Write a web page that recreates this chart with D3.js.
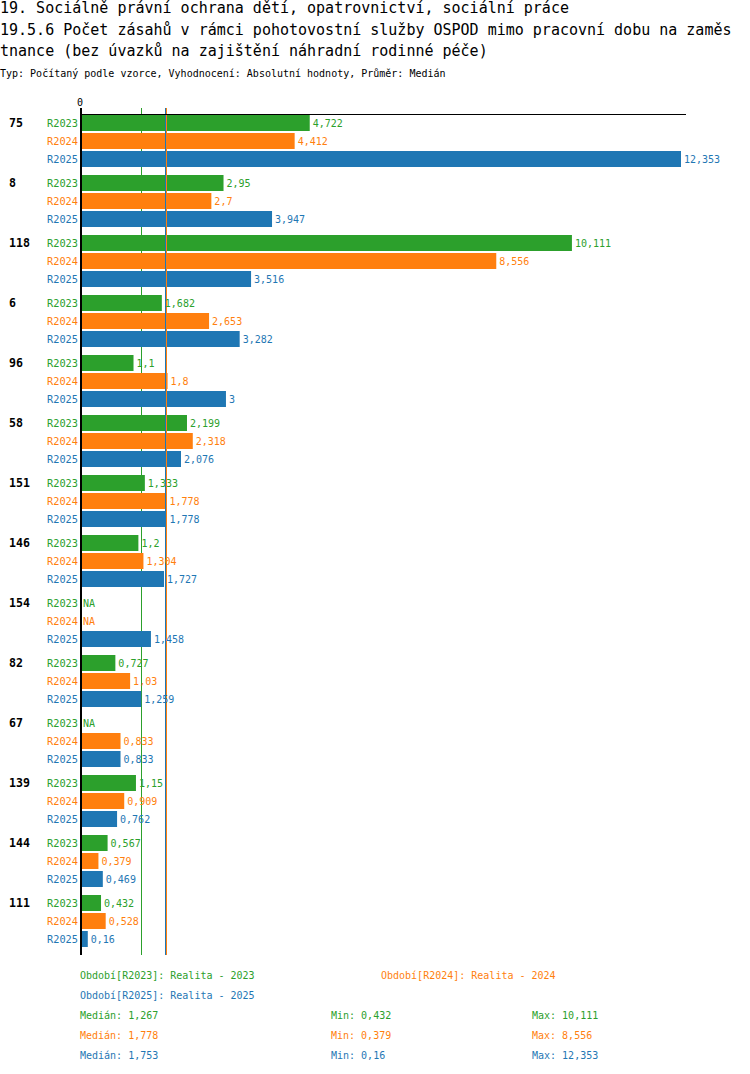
<!DOCTYPE html>
<html>
<head>
<meta charset="utf-8">
<script src="https://cdn.jsdelivr.net/npm/d3@7"></script>
<style>
body { margin: 0; background: #fff; }
text { font-family: "DejaVu Sans Mono", monospace; }
</style>
</head>
<body>
<script>
// data
const categories = ['75', '8', '118', '6', '96', '58', '151', '146', '154', '82', '67', '139', '144', '111']
const series = ['R2023', 'R2024', 'R2025']
const r2023 = [4.722, 2.95, 10.111, 1.682, 1.1, 2.199, 1.333, 1.2, null, 0.727, null, 1.15, 0.567, 0.432]
const r2024 = [4.412, 2.7, 8.556, 2.653, 1.8, 2.318, 1.778, 1.304, null, 1.03, 0.833, 0.909, 0.379, 0.528]
const r2025 = [12.353, 3.947, 3.516, 3.282, 3, 2.076, 1.778, 1.727, 1.458, 1.259, 0.833, 0.762, 0.469, 0.16]
const legendNames = ['Realita - 2023', 'Realita - 2024', 'Realita - 2025']
const medians = [1.267, 1.778, 1.753]
const mins = [0.432, 0.379, 0.16]
const maxs = [10.111, 8.556, 12.353]
const colors = ['#2ca02c', '#ff7f0e', '#1f77b4']

const values = [r2023, r2024, r2025]
const titleLines = [
  '19. Sociálně právní ochrana dětí, opatrovnictví, sociální práce',
  '19.5.6 Počet zásahů v rámci pohotovostní služby OSPOD mimo pracovní dobu na zaměs',
  'tnance (bez úvazků na zajištění náhradní rodinné péče)'
]
const subtitle = 'Typ: Počítaný podle vzorce, Vyhodnocení: Absolutní hodnoty, Průměr: Medián'

const cz = d3.formatLocale({decimal: ',', thousands: ' ', grouping: [3], currency: ['', '']})
const fmt = cz.format('.3~f')

const svg = d3.select('body').append('svg')
  .attr('width', 750)
  .attr('height', 1074)

// titles
svg.selectAll('text.title')
  .data(titleLines)
  .enter().append('text')
    .attr('class', 'title')
    .attr('x', 0)
    .attr('y', (d, i) => [13, 35, 56][i])
    .style('font-size', '15px')
    .text(d => d)

svg.append('text')
  .attr('x', 0)
  .attr('y', 77)
  .style('font-size', '10px')
  .text(subtitle)

// scales
const x = d3.scaleLinear()
  .domain([0, d3.max(values.flat())])
  .range([80, 681])

const y = d3.scaleBand()
  .domain(categories)
  .range([115, 955])

const inner = d3.scaleBand()
  .domain(series)
  .range([0, 54])

const barH = 16
const lineTop = 108, lineBottom = 955

// green median line sits behind the bars
svg.append('line')
  .attr('x1', Math.floor(x(medians[0])) + 0.5).attr('x2', Math.floor(x(medians[0])) + 0.5)
  .attr('y1', lineTop).attr('y2', lineBottom)
  .attr('stroke', colors[0])

// bars
const rows = []
categories.forEach((c, ci) => {
  series.forEach((s, si) => {
    rows.push({cat: c, s: s, si: si, v: values[si][ci]})
  })
})

svg.selectAll('rect.bar')
  .data(rows.filter(d => d.v != null))
  .enter().append('rect')
    .attr('class', 'bar')
    .attr('x', x(0))
    .attr('y', d => y(d.cat) + inner(d.s))
    .attr('width', d => x(d.v) - x(0))
    .attr('height', barH)
    .attr('fill', d => colors[d.si])

// orange + blue median lines on top
svg.selectAll('line.med')
  .data([1, 2])
  .enter().append('line')
    .attr('class', 'med')
    .attr('x1', i => Math.floor(x(medians[i])) + 0.5)
    .attr('x2', i => Math.floor(x(medians[i])) + 0.5)
    .attr('y1', lineTop).attr('y2', lineBottom)
    .attr('stroke', i => colors[i])

// axes
svg.append('line')
  .attr('x1', x(0)).attr('x2', x.range()[1] + 5)
  .attr('y1', 114.5).attr('y2', 114.5)
  .attr('stroke', '#000')

svg.append('line')
  .attr('x1', x(0) + 1).attr('x2', x(0) + 1)
  .attr('y1', lineTop).attr('y2', lineBottom)
  .attr('stroke', '#000')
  .attr('stroke-width', 2)

svg.append('text')
  .attr('x', x(0))
  .attr('y', 106)
  .attr('text-anchor', 'middle')
  .style('font-size', '10px')
  .text('0')

// group labels
svg.selectAll('text.cat')
  .data(categories)
  .enter().append('text')
    .attr('class', 'cat')
    .attr('x', 9)
    .attr('y', d => y(d) + barH / 2)
    .attr('dy', '0.35em')
    .style('font-size', '11.6px')
    .style('font-weight', 'bold')
    .text(d => d)

// series labels
svg.selectAll('text.ser')
  .data(rows)
  .enter().append('text')
    .attr('class', 'ser')
    .attr('x', 78)
    .attr('y', d => y(d.cat) + inner(d.s) + barH / 2)
    .attr('dy', '0.35em')
    .attr('text-anchor', 'end')
    .attr('fill', d => colors[d.si])
    .style('font-size', '10.3px')
    .text(d => d.s)

// value labels
svg.selectAll('text.val')
  .data(rows)
  .enter().append('text')
    .attr('class', 'val')
    .attr('x', d => (d.v == null ? x(0) + 3 : x(d.v) + 3))
    .attr('y', d => y(d.cat) + inner(d.s) + barH / 2)
    .attr('dy', '0.35em')
    .attr('fill', d => colors[d.si])
    .style('font-size', '10px')
    .text(d => (d.v == null ? 'NA' : fmt(d.v)))

// legend
const legendPos = [[80, 979], [381, 979], [80, 999]]
svg.selectAll('text.leg')
  .data(series)
  .enter().append('text')
    .attr('class', 'leg')
    .attr('x', (d, i) => legendPos[i][0])
    .attr('y', (d, i) => legendPos[i][1])
    .attr('fill', (d, i) => colors[i])
    .style('font-size', '10px')
    .text((d, i) => `Období[${d}]: ${legendNames[i]}`)

// stats
const statCols = [80, 331, 532]
series.forEach((s, i) => {
  const items = [`Medián: ${fmt(medians[i])}`, `Min: ${fmt(mins[i])}`, `Max: ${fmt(maxs[i])}`]
  svg.selectAll(null)
    .data(items)
    .enter().append('text')
      .attr('x', (d, j) => statCols[j])
      .attr('y', 1019 + i * 20)
      .attr('fill', colors[i])
      .style('font-size', '10px')
      .text(d => d)
})
</script>
</body>
</html>
